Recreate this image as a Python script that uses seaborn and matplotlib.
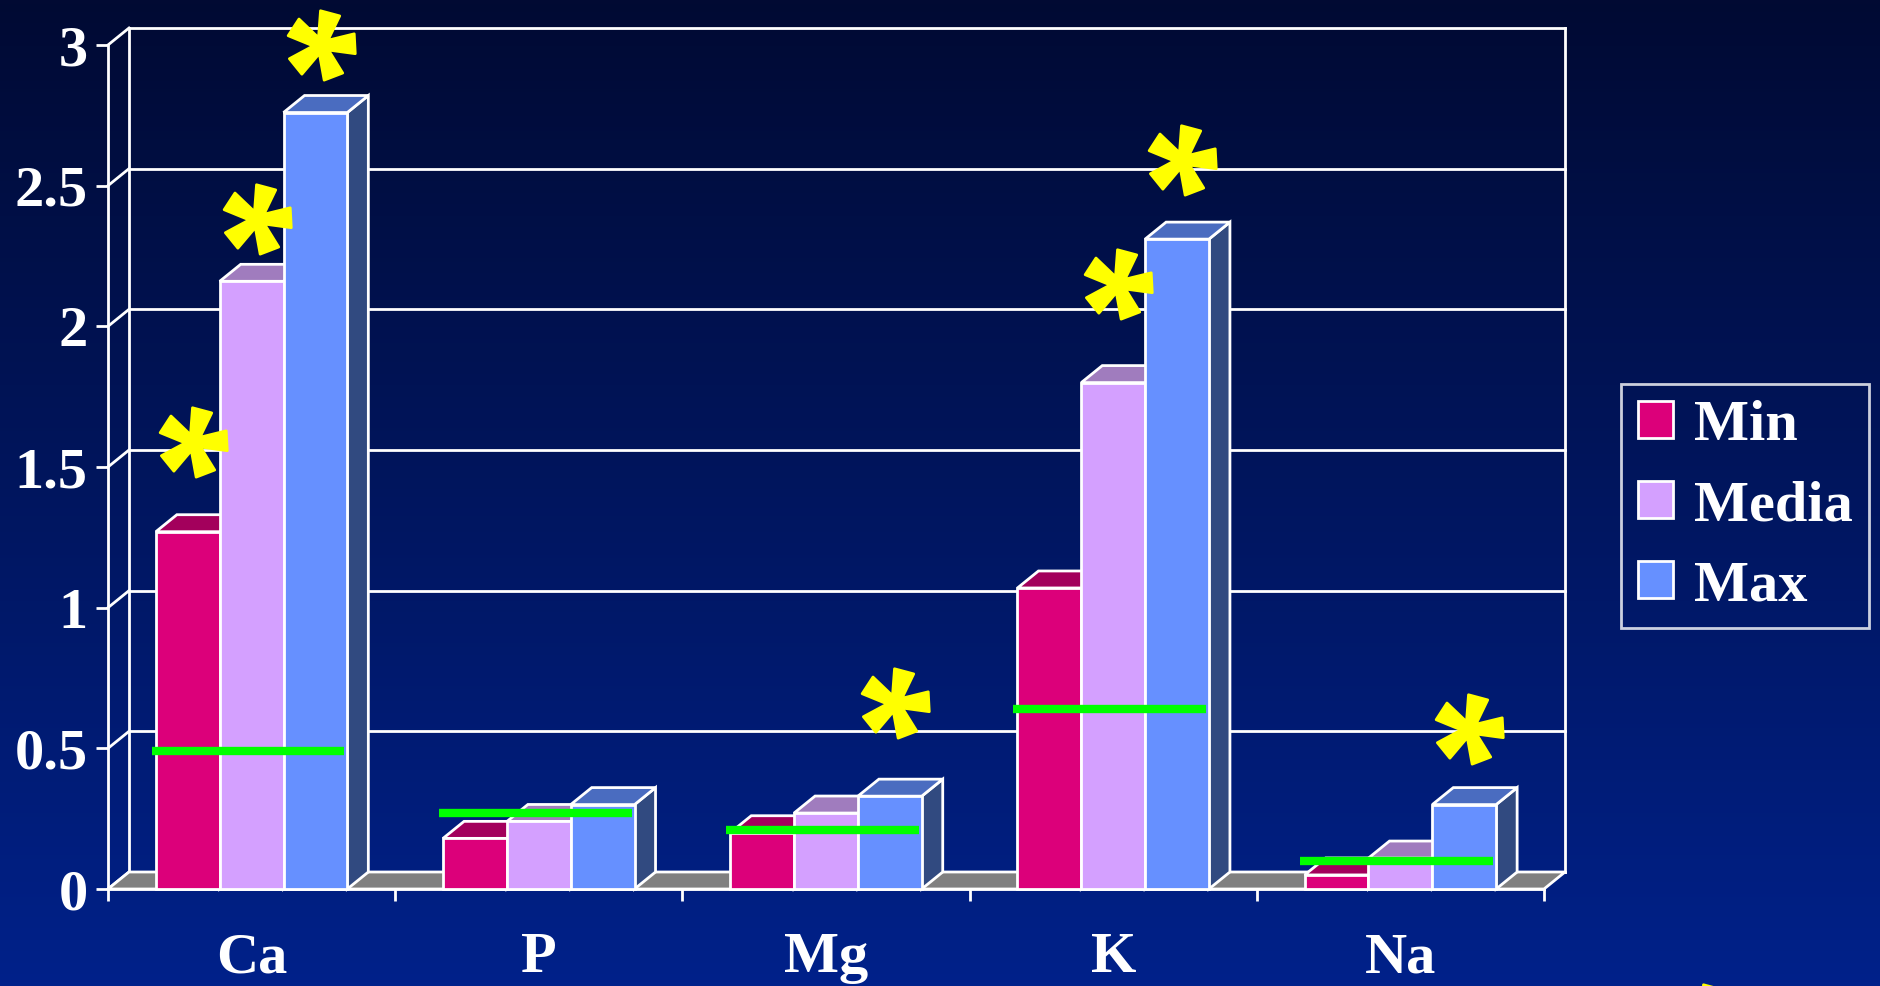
import numpy as np
import pandas as pd
import matplotlib
matplotlib.use("Agg")
import matplotlib.pyplot as plt
import seaborn as sns
from matplotlib.patches import Polygon, Patch, Rectangle
from matplotlib.path import Path
from matplotlib.colors import LinearSegmentedColormap

# ---------------- data ----------------
categories = ["Ca", "P", "Mg", "K", "Na"]
series = ["Min", "Media", "Max"]
min_vals = [1.27, 0.18, 0.20, 1.07, 0.05]
media_vals = [2.16, 0.24, 0.27, 1.80, 0.11]
max_vals = [2.76, 0.30, 0.33, 2.31, 0.30]
ref_vals = [0.49, 0.27, 0.21, 0.64, 0.10]          # green reference lines
# heights of the yellow asterisks (None = no asterisk)
star_min = [1.59, None, None, None, None]
star_media = [2.38, None, None, 2.15, None]
star_max = [3.00, None, 0.66, 2.59, 0.57]
y_ticks = [0, 0.5, 1, 1.5, 2, 2.5, 3]
y_tick_labels = ["0", "0.5", "1", "1.5", "2", "2.5", "3"]

# ---------------- style ----------------
front_colors = {"Min": "#DC007A", "Media": "#D4A0FF", "Max": "#6690FF"}
top_colors = {"Min": "#A3005C", "Media": "#A07CBE", "Max": "#4A6CC0"}
side_colors = {"Min": "#7A0046", "Media": "#7E5FA0", "Max": "#314A80"}
WHITE = "white"
FS = 42

plt.rcParams["font.family"] = ["Liberation Serif", "DejaVu Serif"]
plt.rcParams["font.weight"] = "bold"

W, H = 1881, 986
fig = plt.figure(figsize=(W / 100, H / 100), dpi=100)

# background gradient
bg = fig.add_axes([0, 0, 1, 1], zorder=-10)
grad = np.linspace(0, 1, 256)[:, None]
cmap = LinearSegmentedColormap.from_list("bg", ["#010A33", "#00218A"])
bg.imshow(grad, aspect="auto", cmap=cmap, extent=[0, 1, 0, 1], origin="upper")
bg.axis("off")

L, R, B, T = 108 / W, 1544 / W, (H - 889) / H, (H - 45) / H
ax = fig.add_axes([L, B, R - L, T - B])
ax.set_facecolor("none")

# ---------------- bars (seaborn) ----------------
rows = []
for s, vals in zip(series, [min_vals, media_vals, max_vals]):
    for c, v in zip(categories, vals):
        rows.append({"category": c, "series": s, "value": v})
df = pd.DataFrame(rows)

sns.barplot(data=df, x="category", y="value", hue="series", order=categories,
            hue_order=series, palette=front_colors, width=2 / 3, gap=0,
            saturation=1, edgecolor=WHITE, linewidth=2, errorbar=None,
            legend=False, ax=ax)
rects = sorted([p for p in ax.patches if isinstance(p, Rectangle) and p.get_height() > 0],
               key=lambda p: p.get_x())

n = len(categories)
ax.set_xlim(-0.5, n - 0.5)
ax.set_ylim(0, 3)
ax.set_xlabel("")
ax.set_ylabel("")

# depth offsets in data units (derived from axes pixel size)
px_x = (R - L) * W / n
px_y = (T - B) * H / 3
DX, DY = 21 / px_x, 17 / px_y

# back wall, left wall and floor
x0w, x1w = -0.5, n - 0.5
for t in y_ticks:
    ax.plot([x0w + DX, x1w + DX], [t + DY, t + DY], color=WHITE, lw=2,
            zorder=1, clip_on=False)
    ax.plot([x0w, x0w + DX], [t, t + DY], color=WHITE, lw=2, zorder=1,
            clip_on=False)
ax.plot([x0w + DX] * 2, [DY, 3 + DY], color=WHITE, lw=2, zorder=1, clip_on=False)
ax.plot([x1w + DX] * 2, [DY, 3 + DY], color=WHITE, lw=2, zorder=1, clip_on=False)
ax.add_patch(Polygon([(x0w, 0), (x1w, 0), (x1w + DX, DY), (x0w + DX, DY)],
                     closed=True, facecolor="#808080", edgecolor=WHITE, lw=2,
                     zorder=2, clip_on=False))

# 3D faces for each bar
bar_info = []
for i, r in enumerate(rects):
    cat_idx = int(round(r.get_x() + r.get_width() / 2))
    s = series[i % 3]
    x0, w, h = r.get_x(), r.get_width(), r.get_height()
    z = 10 + i
    r.set_zorder(z)
    r.set_clip_on(False)
    ax.add_patch(Polygon([(x0 + w, 0), (x0 + w + DX, DY), (x0 + w + DX, h + DY), (x0 + w, h)],
                         closed=True, facecolor=side_colors[s], edgecolor=WHITE,
                         lw=2, zorder=z - 0.5, clip_on=False))
    ax.add_patch(Polygon([(x0, h), (x0 + w, h), (x0 + w + DX, h + DY), (x0 + DX, h + DY)],
                         closed=True, facecolor=top_colors[s], edgecolor=WHITE,
                         lw=2, zorder=z - 0.5, clip_on=False))
    bar_info.append((s, cat_idx, x0 + w / 2, h))

# green reference lines
xpos = np.arange(n)
ax.hlines(ref_vals, xpos - 1 / 3 - 0.015, xpos + 1 / 3 - 0.01, color="#00FF00",
          lw=6, zorder=50)


# asterisks
def asterisk_path(k=5, rot=3.0, r_in=0.24, half=0.29):
    verts = []
    for j in range(k):
        th = np.deg2rad(rot + 360 * j / k)
        verts.append((np.cos(th - half), np.sin(th - half)))
        verts.append((np.cos(th + half), np.sin(th + half)))
        thi = th + np.pi / k
        verts.append((r_in * np.cos(thi), r_in * np.sin(thi)))
    verts.append(verts[0])
    codes = [Path.MOVETO] + [Path.LINETO] * (len(verts) - 2) + [Path.CLOSEPOLY]
    return Path(verts, codes)


star = asterisk_path()
flags = {"Min": star_min, "Media": star_media, "Max": star_max}
sx, sy = [], []
for s, ci, xc, h in bar_info:
    if flags[s][ci] is not None:
        sx.append(xc + DX / 4)
        sy.append(flags[s][ci])
ax.scatter(sx, sy, marker=star, s=50 ** 2, color="#FFFF00", edgecolor="#FFFF00",
           linewidths=2, zorder=60, clip_on=False)
# partially visible asterisk at the bottom edge
ax.scatter([1704 / W], [-33 / H], marker=star, s=50 ** 2, color="#FFFF00",
           edgecolor="#FFFF00", linewidths=2, transform=fig.transFigure,
           zorder=60, clip_on=False)

# ---------------- axes styling ----------------
for sp in ["top", "right"]:
    ax.spines[sp].set_visible(False)
for sp in ["left", "bottom"]:
    ax.spines[sp].set_color(WHITE)
    ax.spines[sp].set_linewidth(2)
    ax.spines[sp].set_zorder(5)

ax.set_yticks(y_ticks)
ax.set_yticklabels(y_tick_labels, fontsize=FS, fontweight="bold", color=WHITE)
ax.tick_params(axis="y", length=8.6, width=2, color=WHITE, pad=6)

ax.set_xticks(np.arange(-0.5, n, 1.0))
ax.set_xticklabels([])
ax.tick_params(axis="x", which="major", length=8.6, width=2, color=WHITE)
ax.set_xticks(xpos, minor=True)
ax.set_xticklabels(categories, minor=True, fontsize=FS, fontweight="bold", color=WHITE)
ax.tick_params(axis="x", which="minor", length=0, pad=31)
ax.grid(False)

# ---------------- legend ----------------
handles = [Patch(facecolor=front_colors[s], edgecolor=WHITE, lw=2) for s in series]
leg = fig.legend(handles, series, loc="center", bbox_to_anchor=(0.9277, 0.4868),
                 prop={"family": "Liberation Serif", "weight": "bold", "size": FS},
                 labelcolor=WHITE, handlelength=0.6, handleheight=0.6,
                 handletextpad=0.36, labelspacing=0.48, borderpad=0.28,
                 borderaxespad=0, fancybox=False, frameon=True,
                 edgecolor=WHITE, facecolor="none")
leg.get_frame().set_linewidth(2)

fig.savefig("out.png", dpi=100)
